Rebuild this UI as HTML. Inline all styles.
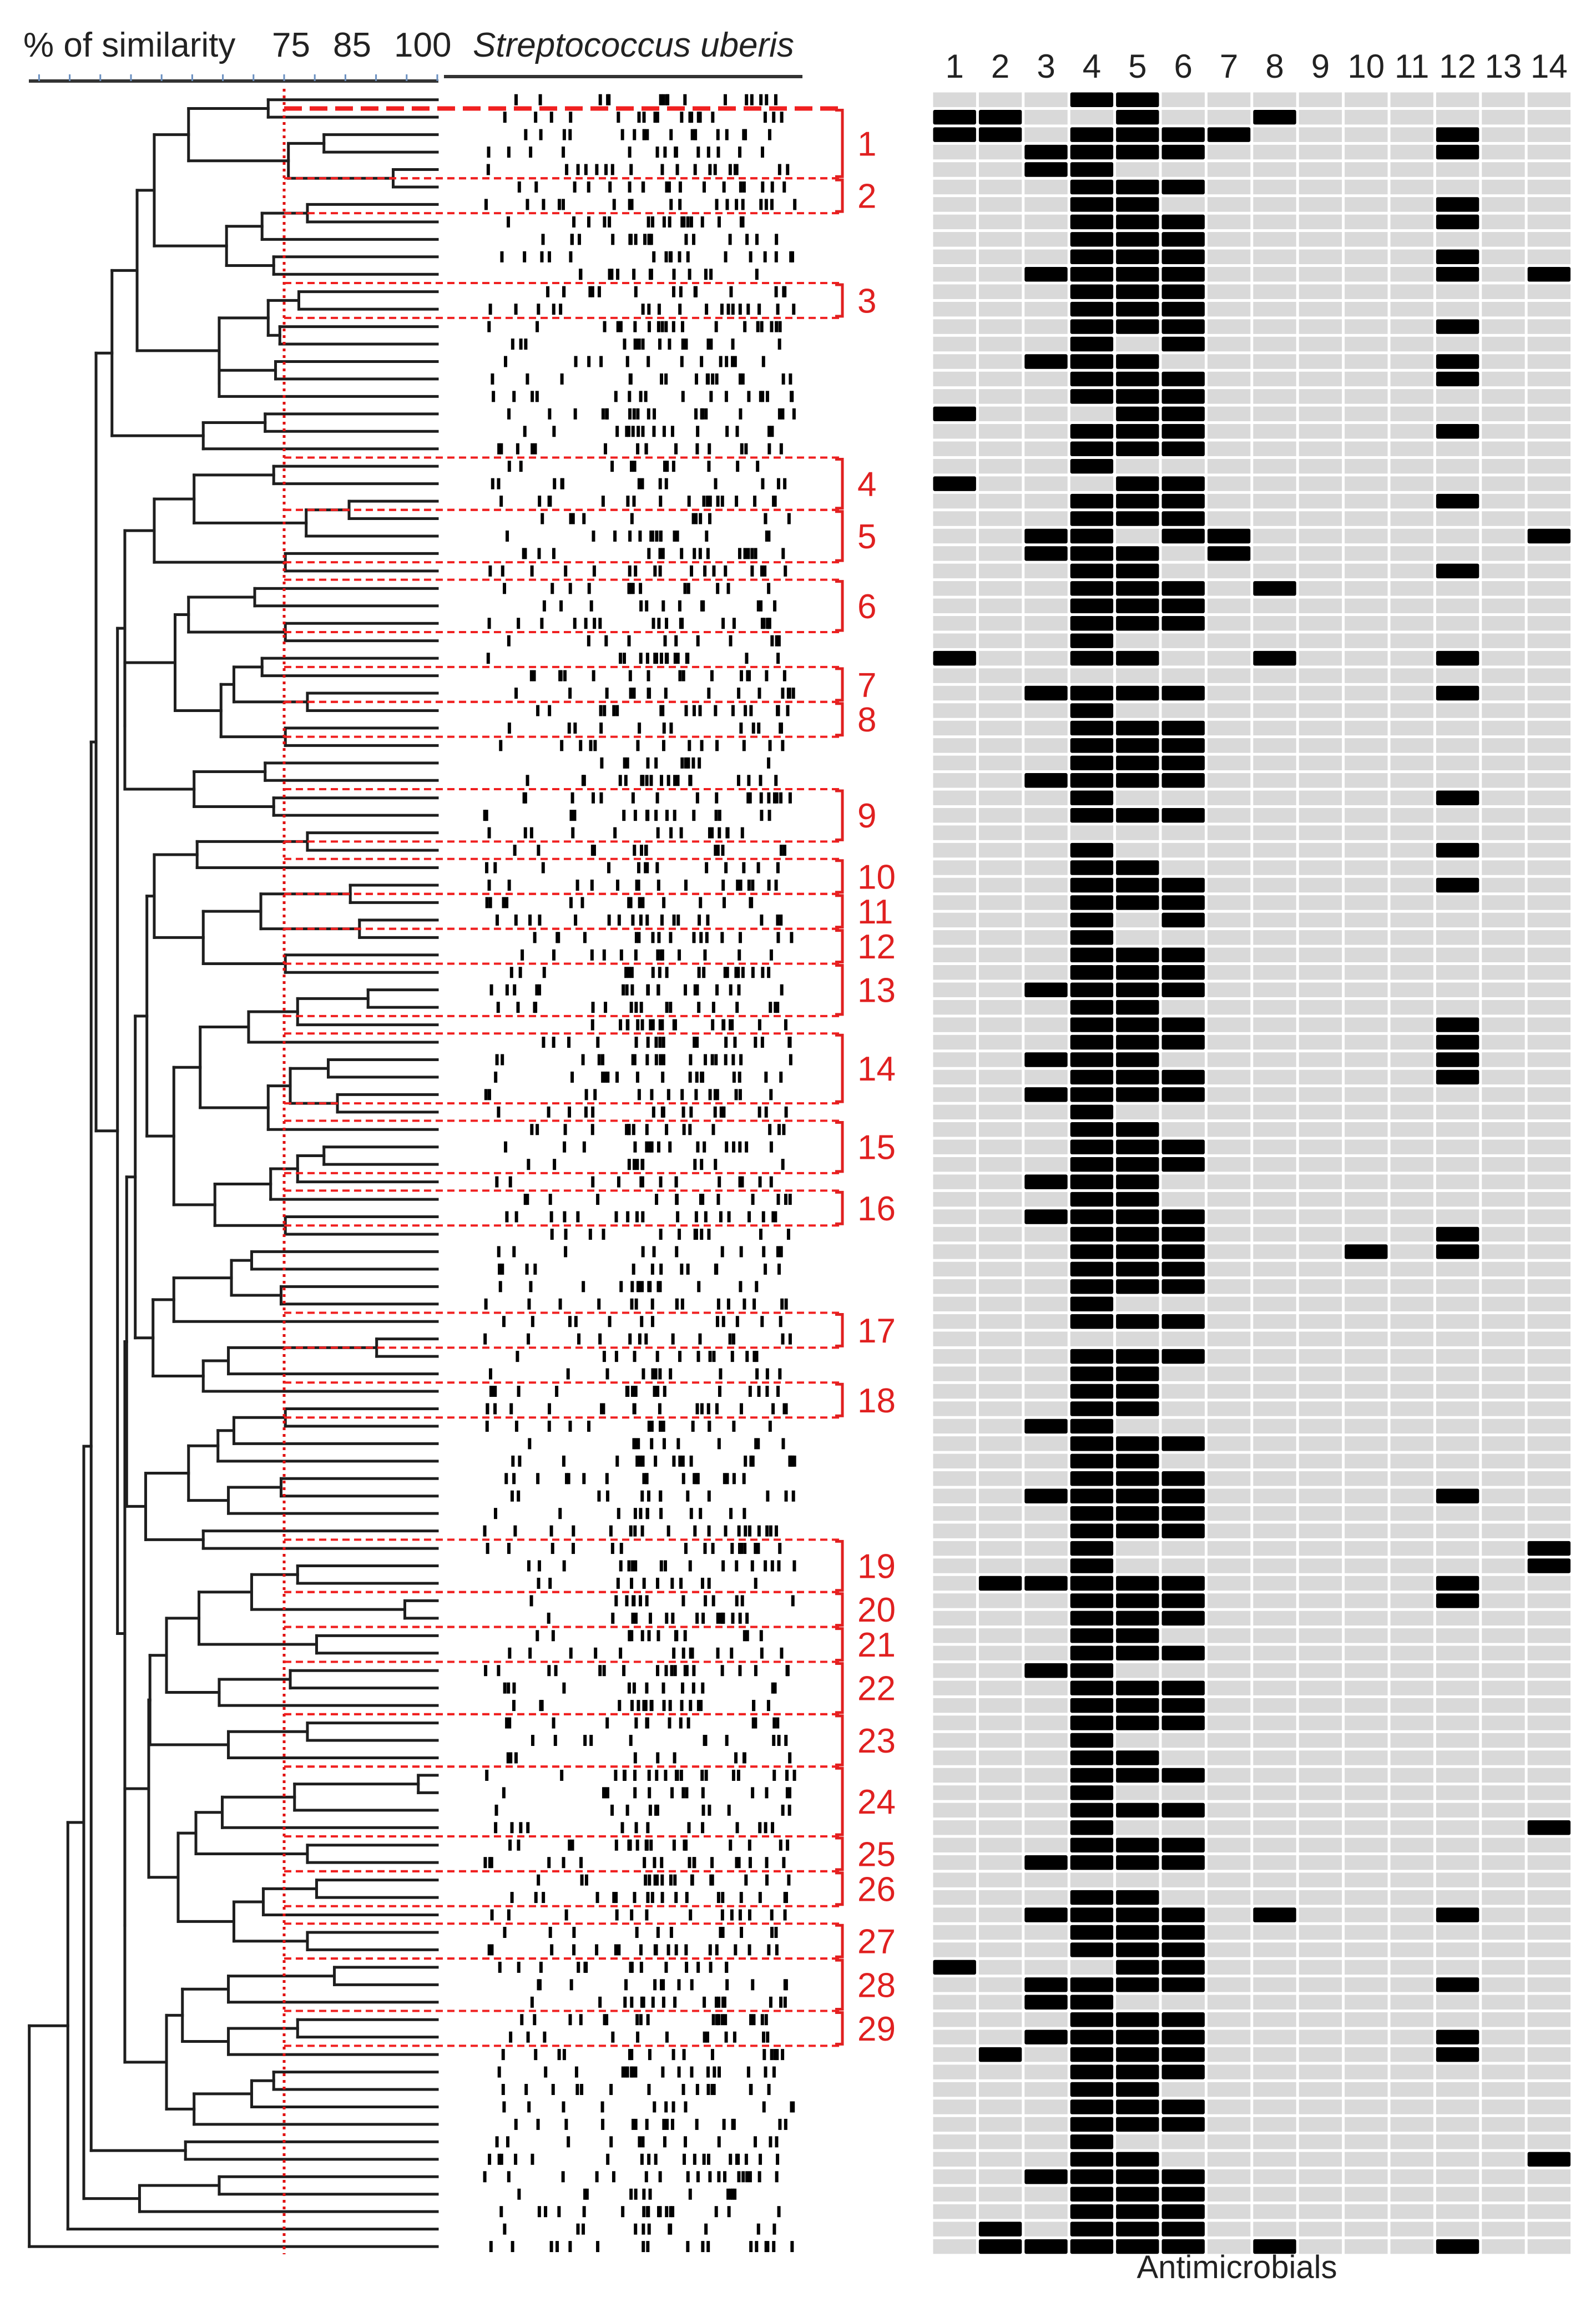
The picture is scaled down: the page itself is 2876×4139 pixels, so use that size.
<!DOCTYPE html>
<html>
<head>
<meta charset="utf-8">
<style>
  html,body{margin:0;padding:0;background:#fff;}
  svg{display:block;}
  text{font-family:"Liberation Sans",sans-serif;}
</style>
</head>
<body>
<svg id="fig" xmlns="http://www.w3.org/2000/svg" width="2876" height="4139" viewBox="0 0 2876 4139">
  <g id="header">
    <text x="42" y="102" font-size="62" fill="#222">% of similarity</text>
    <text x="490" y="102" font-size="62" fill="#222">75</text>
    <text x="600" y="102" font-size="62" fill="#222">85</text>
    <text x="710" y="102" font-size="62" fill="#222">100</text>
    <text x="852" y="102" font-size="62" font-style="italic" fill="#222">Streptococcus uberis</text>
    <line x1="52" y1="146" x2="790" y2="146" stroke="#333" stroke-width="6"/>
    <line x1="800" y1="138" x2="1446" y2="138" stroke="#333" stroke-width="6"/>
  </g>
  <g id="axisTicks"></g>
  <g id="gel"></g>
  <g id="dendro"></g>
  <line x1="512" y1="160" x2="512" y2="4062" stroke="#e01010" stroke-width="5" stroke-dasharray="5 7"/>
  <g id="clusters"></g>
  <g id="heat"></g>
  <g id="colLabels"></g>
  <text x="2229" y="4105" font-size="58" fill="#222" text-anchor="middle">Antimicrobials</text>
</svg>
<script>
// ---------- DATA ----------
const antimicrobials = ["1","2","3","4","5","6","7","8","9","10","11","12","13","14"];
// resistant antimicrobials (column numbers) per isolate row, top to bottom
const resistance = [
 [4,5],[1,2,5,8],[1,2,4,5,6,7,12],[3,4,5,6,12],[3,4],[4,5,6],[4,5,12],[4,5,6,12],[4,5,6],[4,5,6,12],
 [3,4,5,6,12,14],[4,5,6],[4,5,6],[4,5,6,12],[4,6],[3,4,5,12],[4,5,6,12],[4,5,6],[1,5,6],[4,5,6,12],
 [4,5,6],[4],[1,5,6],[4,5,6,12],[4,5,6],[3,4,6,7,14],[3,4,5,7],[4,5,12],[4,5,6,8],[4,5,6],
 [4,5,6],[4],[1,4,5,8,12],[],[3,4,5,6,12],[4],[4,5,6],[4,5,6],[4,5,6],[3,4,5,6],
 [4,12],[4,5,6],[],[4,12],[4,5],[4,5,6,12],[4,5,6],[4,6],[4],[4,5,6],
 [4,5,6],[3,4,5,6],[4,5],[4,5,6,12],[4,5,6,12],[3,4,5,12],[4,5,6,12],[3,4,5,6],[4],[4,5],
 [4,5,6],[4,5,6],[3,4,5],[4,5],[3,4,5,6],[4,5,6,12],[4,5,6,10,12],[4,5,6],[4,5,6],[4],
 [4,5,6],[],[4,5,6],[4,5],[4,5],[4,5],[3,4],[4,5,6],[4,5],[4,5,6],
 [3,4,5,6,12],[4,5,6],[4,5,6],[4,14],[4,14],[2,3,4,5,6,12],[4,5,6,12],[4,5,6],[4,5],[4,5,6],
 [3,4],[4,5,6],[4,5,6],[4,5,6],[4],[4,5],[4,5,6],[4],[4,5,6],[4,14],
 [4,5,6],[3,4,5,6],[],[4,5],[3,4,5,6,8,12],[4,5,6],[4,5,6],[1,5,6],[3,4,5,6,12],[3,4],
 [4,5,6],[3,4,5,6,12],[2,4,5,6,12],[4,5,6],[4,5],[4,5,6],[4,5,6],[4],[4,5,14],[3,4,5,6],
 [4,5,6],[4,5,6],[2,4,5,6],[2,3,4,5,6,8,12]
];
// % similarity at which adjacent leaves (i, i+1) join in the dendrogram
const mergeSimilarity = [
 72.4,59.4,81.5,75.7,92.8,53.8,78.8,71.4,65.6,73.3,51.0,77.4,72.4,74.3,64.4,73.6,64.4,46.9,71.9,61.8,
 44.3,73.3,60.3,85.6,78.6,53.8,75.2,49.0,70.2,59.4,75.2,57.2,71.4,66.8,78.8,64.7,75.2,49.0,71.9,60.3,
 73.3,47.8,78.8,60.8,53.8,85.8,71.2,87.3,61.8,75.2,52.6,88.7,77.2,69.2,61.3,82.2,76.0,83.7,72.4,57.0,
 81.5,77.2,72.8,63.7,75.2,50.7,69.7,66.4,74.5,57.0,53.6,90.1,65.9,61.8,49.3,75.2,66.8,64.2,59.4,74.5,
 65.9,52.4,61.8,49.0,77.2,69.7,94.7,61.1,80.3,55.8,76.0,64.4,53.1,78.8,65.9,52.9,96.9,76.7,64.9,60.6,
 78.8,57.7,80.3,71.6,66.8,78.8,49.0,83.2,65.9,58.4,77.2,65.9,55.8,73.3,69.7,60.3,43.5,58.9,42.3,64.4,
 51.4,39.7,33.4
];
// clusters: label, first row boundary, last row boundary
const clusterLabels = ["1","2","3","4","5","6","7","8","9","10","11","12","13","14","15","16","17","18","19","20","21","22","23","24","25","26","27","28","29"];
const clusterStart = [1,5,11,21,24,28,33,35,40,44,46,48,50,54,59,63,70,74,83,86,88,90,93,96,100,102,105,107,110];
const clusterEnd   = [5,7,13,24,27,31,35,37,43,46,48,50,53,58,62,65,72,76,86,88,90,93,96,100,102,104,107,110,112];

// ---------- SCALES ----------
const NS = "http://www.w3.org/2000/svg";
const ROW_TOP = 164, ROW_H = 31.45;
const GRID_X = 1679, COL_W = 82.4;
function yRow(i){ return ROW_TOP + (i + 0.5) * ROW_H; }
function yBound(b){ return ROW_TOP + b * ROW_H; }
function xSim(s){ return 512 + (s - 75) * 11.04; }
function xCol(c){ return GRID_X + (c - 1) * COL_W; }
function mk(tag, attrs, parent){
  const e = document.createElementNS(NS, tag);
  for (const k in attrs) e.setAttribute(k, attrs[k]);
  parent.appendChild(e);
  return e;
}

// ---------- AXIS TICKS ----------
const axisG = document.getElementById('axisTicks');
[35,40,45,50,55,60,65,70,75,80,85,90,95,100].forEach(function(s){
  const t = mk('line', {x1:xSim(s), y1:134, x2:xSim(s), y2:146, stroke:'#6a8fc0', 'stroke-width':3}, axisG);
  
  
});

// ---------- HEATMAP ----------
const heat = document.getElementById('heat');
const nRows = resistance.length;
for (let r = 0; r < nRows; r++){
  for (let c = 1; c <= antimicrobials.length; c++){
    const on = resistance[r].indexOf(c) >= 0;
    const cell = mk('rect', {
      x: xCol(c) + 2.5, y: ROW_TOP + r * ROW_H + 2.5,
      width: COL_W - 5, height: ROW_H - 5,
      rx: on ? 3 : 0, fill: on ? '#000' : '#d9d9d9'
    }, heat);
    
    
  }
}
const colG = document.getElementById('colLabels');
antimicrobials.forEach(function(lbl, i){
  const t = mk('text', {x: xCol(i + 1) + COL_W / 2, y: 140, 'font-size': 60, fill: '#222', 'text-anchor': 'middle'}, colG);
  t.textContent = lbl;
  
  
});

// ---------- DENDROGRAM ----------
const dg = document.getElementById('dendro');
function seg(x1, y1, x2, y2){
  const l = mk('line', {x1:x1, y1:y1, x2:x2, y2:y2, stroke:'#1e1e1e', 'stroke-width':5, 'stroke-linecap':'square'}, dg);
  
  
}
function build(a, b){
  if (a === b) return {x: xSim(100), y: yRow(a)};
  let k = a;
  for (let i = a; i < b; i++) if (mergeSimilarity[i] < mergeSimilarity[k]) k = i;
  const L = build(a, k), R = build(k + 1, b);
  const h = xSim(mergeSimilarity[k]);
  seg(h, L.y, L.x, L.y);
  seg(h, R.y, R.x, R.y);
  seg(h, L.y, h, R.y);
  return {x: h, y: (L.y + R.y) / 2};
}
build(0, nRows - 1);

// ---------- GEL LANES (decorative band texture, fixed seed) ----------
const gel = document.getElementById('gel');
let seed = 12345;
function lcg(){ seed = (seed * 1103515245 + 12345) % 2147483648; return seed / 2147483648; }
for (let r = 0; r < nRows; r++){
  const y = yRow(r) - 10;
  const n = 11 + Math.floor(lcg() * 9);
  for (let j = 0; j < n; j++){
    let u = lcg();
    const x = j < n * 0.35 ? 870 + u * 330 : 1130 + u * 300;
    const b = mk('rect', {x: x, y: y, width: 6, height: 20, fill: '#000'}, gel);
    
    
  }
}

// ---------- CLUSTERS ----------
const cg = document.getElementById('clusters');
for (let i = 0; i < clusterLabels.length; i++){
  const y1 = yBound(clusterStart[i]), y2 = yBound(clusterEnd[i]);
  const first = i === 0;
  const top = mk('line', {x1:512, y1:y1, x2:1515, y2:y1, stroke:'#f02020', 'stroke-width': first ? 8 : 4, 'stroke-dasharray': first ? '32 14' : '13 8'}, cg);
  
  
  const bot = mk('line', {x1:512, y1:y2, x2:1515, y2:y2, stroke:'#f02020', 'stroke-width':4, 'stroke-dasharray':'13 8'}, cg);
  
  
  const br = mk('path', {d: 'M1505 ' + (y1 + 3) + ' H1518 V' + (y2 - 3) + ' H1505', fill: 'none', stroke: '#e02020', 'stroke-width': 5}, cg);
  
  
  const t = mk('text', {x: 1545, y: (y1 + y2) / 2 + 22, 'font-size': 62, fill: '#e02020'}, cg);
  t.textContent = clusterLabels[i];
  
  
}
</script>
</body>
</html>
